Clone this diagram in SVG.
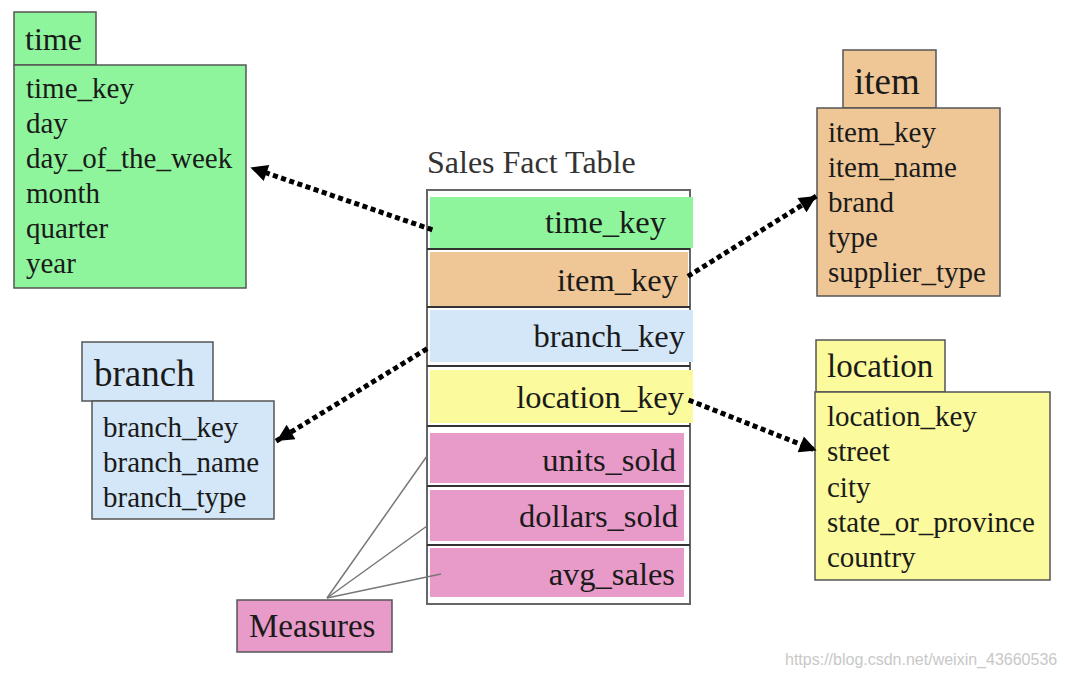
<svg xmlns="http://www.w3.org/2000/svg" width="1066" height="678" viewBox="0 0 1066 678">
<defs>
<style>
text{font-family:"Liberation Serif","Times New Roman",serif;fill:#1a1a1a}
.f{font-size:29px}
.k{font-size:32.5px;text-anchor:end}
.box{stroke:#555;stroke-width:1.5}
.g{fill:#8ff59c}.o{fill:#efc797}.b{fill:#d3e7f8}.y{fill:#fbfa9c}.p{fill:#e89bc9}
.dot{fill:none;stroke:#000;stroke-width:5;stroke-dasharray:0.1 8.5;stroke-linecap:square}
.ml{stroke:#777;stroke-width:1.5;fill:none}
</style>
<marker id="ah" viewBox="0 0 10 10" refX="9" refY="5" markerWidth="3.6" markerHeight="3.4" orient="auto" markerUnits="strokeWidth">
<path d="M0,0 L10,5 L0,10 z" fill="#000"/>
</marker>
</defs>
<rect width="1066" height="678" fill="#fff"/>

<g id="time">
<rect class="box g" x="14" y="12" width="82" height="53"/>
<rect class="box g" x="14" y="65" width="232" height="223"/>
<text x="25" y="50" style="font-size:32px">time</text>
<text class="f" x="26" y="98">time_key</text>
<text class="f" x="26" y="133">day</text>
<text class="f" x="26" y="168">day_of_the_week</text>
<text class="f" x="26" y="203">month</text>
<text class="f" x="26" y="238">quarter</text>
<text class="f" x="26" y="273">year</text>
</g>

<g id="item">
<rect class="box o" x="843" y="50" width="93" height="58"/>
<rect class="box o" x="817" y="108" width="183" height="188"/>
<text x="854" y="94" style="font-size:37px">item</text>
<text class="f" x="828" y="142">item_key</text>
<text class="f" x="828" y="177">item_name</text>
<text class="f" x="828" y="212">brand</text>
<text class="f" x="828" y="247">type</text>
<text class="f" x="828" y="282">supplier_type</text>
</g>

<g id="location">
<rect class="box y" x="816" y="340" width="129" height="52"/>
<rect class="box y" x="815" y="392" width="235" height="188"/>
<text x="827" y="377" style="font-size:33px">location</text>
<text class="f" x="827" y="426">location_key</text>
<text class="f" x="827" y="461">street</text>
<text class="f" x="827" y="497">city</text>
<text class="f" x="827" y="532">state_or_province</text>
<text class="f" x="827" y="567">country</text>
</g>

<g id="branch">
<rect class="box b" x="82" y="342" width="131" height="59"/>
<rect class="box b" x="92" y="401" width="182" height="118"/>
<text x="94" y="386" style="font-size:37px">branch</text>
<text class="f" x="103" y="437">branch_key</text>
<text class="f" x="103" y="472">branch_name</text>
<text class="f" x="103" y="507">branch_type</text>
</g>

<g id="fact">
<text x="427" y="173" style="font-size:32px;fill:#333">Sales Fact Table</text>
<rect x="427" y="190" width="263" height="414" fill="#fff" stroke="#666" stroke-width="2"/>
<rect class="g" x="430" y="197" width="263" height="51"/>
<rect class="o" x="430" y="252" width="258" height="54"/>
<rect class="b" x="430" y="310" width="263" height="52"/>
<rect class="y" x="430" y="370" width="263" height="53"/>
<rect class="p" x="430" y="433" width="254" height="50"/>
<rect class="p" x="430" y="490" width="254" height="51"/>
<rect class="p" x="430" y="548" width="254" height="49"/>
<g stroke="#333" stroke-width="2">
<line x1="427" y1="249" x2="690" y2="249"/>
<line x1="427" y1="307" x2="690" y2="307"/>
<line x1="427" y1="366" x2="690" y2="366"/>
<line x1="427" y1="426" x2="690" y2="426"/>
<line x1="427" y1="486" x2="690" y2="486"/>
<line x1="427" y1="545" x2="690" y2="545"/>
</g>
<text class="k" x="666" y="233">time_key</text>
<text class="k" x="678" y="291">item_key</text>
<text class="k" x="685" y="347">branch_key</text>
<text class="k" x="684" y="408">location_key</text>
<text class="k" x="676" y="471">units_sold</text>
<text class="k" x="678" y="527">dollars_sold</text>
<text class="k" x="675" y="585">avg_sales</text>
</g>

<g id="measures">
<rect class="box p" x="237" y="600" width="155" height="52"/>
<text x="249" y="637" style="font-size:33px">Measures</text>
</g>

<g id="connectors">
<line class="dot" x1="430" y1="229" x2="252" y2="168" marker-end="url(#ah)"/>
<line class="dot" x1="690" y1="275" x2="815" y2="197" marker-end="url(#ah)"/>
<line class="dot" x1="425" y1="350" x2="278" y2="440" marker-end="url(#ah)"/>
<line class="dot" x1="691" y1="401" x2="815" y2="450" marker-end="url(#ah)"/>
<line class="ml" x1="327" y1="598" x2="427" y2="456"/>
<line class="ml" x1="327" y1="598" x2="427" y2="526"/>
<line class="ml" x1="327" y1="598" x2="441" y2="574"/>
</g>

<text x="785" y="665" style="font-family:'Liberation Sans',Arial,sans-serif;font-size:16px;fill:#c8c8c8">https://blog.csdn.net/weixin_43660536</text>
</svg>
